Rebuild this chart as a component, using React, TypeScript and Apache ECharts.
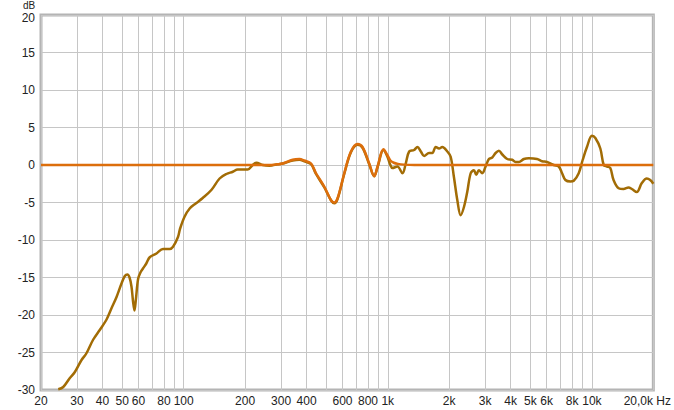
import React, { useEffect, useRef } from "react";
import * as echarts from "echarts";

const gridFreqs = [
  20, 30, 40, 50, 60, 70, 80, 90, 100, 200, 300, 400, 500, 600, 700, 800, 900, 1000,
  2000, 3000, 4000, 5000, 6000, 7000, 8000, 9000, 10000, 20000,
];
const labelFreqs = [
  20, 30, 40, 50, 60, 80, 100, 200, 300, 400, 600, 800, 1000, 2000, 3000, 4000, 5000,
  6000, 8000, 10000, 20000,
];

// Measured response [Hz, dB]
const responseData: [number, number][] = [
  [24.3, -29.9], [25.7, -29.6], [27.7, -28.4], [29.3, -27.6], [31.6, -26.0], [33.4, -25.1],
  [36.0, -23.3], [38.8, -22.0], [41.9, -20.6], [44.3, -19.1], [46.9, -17.6], [49.6, -15.8],
  [51.5, -14.8], [53.0, -14.6], [54.3, -15.0], [55.5, -16.2], [56.5, -18.2], [57.4, -19.4],
  [58.3, -18.0], [59.8, -15.2], [61.5, -14.3], [63.2, -13.8], [65.7, -13.1], [68.2, -12.3],
  [73.6, -11.8], [79.2, -11.2], [85.4, -11.2], [88.7, -10.9], [93.8, -9.6], [96.0, -8.5],
  [101, -6.9], [107, -5.8], [115, -5.1], [124, -4.4], [137, -3.3], [150, -1.8], [162, -1.2],
  [174, -0.9], [184, -0.6], [206, -0.6], [218, 0.0], [227, 0.3], [244, 0.0], [263, -0.1],
  [289, 0.1], [306, 0.2], [342, 0.6], [369, 0.7], [390, 0.5], [421, 0.1], [445, -1.2],
  [489, -3.0], [527, -4.7], [547, -5.1], [568, -4.5], [612, -1.2], [660, 1.7], [711, 2.7],
  [752, 2.3], [811, 0.1], [858, -1.5], [891, -0.3], [952, 2.0], [996, 1.1], [1030, 0.0],
  [1054, -0.4], [1115, -0.2], [1180, -1.1], [1225, 0.2], [1273, 1.8], [1346, 2.0],
  [1397, 2.4], [1452, 1.8], [1507, 1.2], [1593, 1.6], [1653, 1.6], [1718, 2.4], [1783, 2.2],
  [1850, 2.4], [1958, 1.8], [2033, 1.1], [2109, -1.6], [2192, -4.7], [2276, -6.7],
  [2362, -5.6], [2451, -3.6], [2548, -1.1], [2643, -0.7], [2712, -1.3], [2796, -0.7],
  [2903, -1.1], [3015, -0.2], [3130, 0.8], [3250, 1.0], [3375, 1.6], [3503, 1.9], [3639, 1.4],
  [3848, 0.8], [4068, 0.7], [4227, 0.4], [4389, 0.4], [4644, 0.8], [4910, 0.9], [5385, 0.8],
  [5700, 0.5], [6030, 0.4], [6500, 0.0], [6880, -0.2], [7145, -1.1], [7420, -2.0],
  [7850, -2.2], [8150, -2.1], [8620, -1.1], [9020, 0.7], [9460, 2.4], [10010, 3.9],
  [10400, 3.6], [11000, 2.2], [11430, 0.0], [11860, -0.2], [12310, -0.4], [12770, -2.0],
  [13520, -3.1], [14300, -3.2], [15130, -3.0], [15700, -3.2], [16600, -3.6], [17570, -2.4],
  [18580, -1.8], [19310, -2.0], [20000, -2.5],
];

// Target / corrected curve [Hz, dB]
const targetData: [number, number][] = [
  [20, 0], [260, 0], [289, 0.1], [306, 0.2], [342, 0.7], [369, 0.8], [390, 0.6], [421, 0.2],
  [445, -1.1], [489, -2.9], [527, -4.7], [547, -5.0], [568, -4.4], [612, -1.1], [660, 1.8],
  [711, 2.8], [752, 2.4], [811, 0.2], [858, -1.5], [891, -0.2], [952, 2.1], [996, 1.3],
  [1030, 0.6], [1070, 0.3], [1120, 0.15], [1200, 0.05], [1350, 0], [20000, 0],
];

function fmtFreq(v: number): string {
  if (v >= 20000) return "{e|20,0k Hz}";
  if (v >= 1000) return v / 1000 + "k";
  return String(v);
}

function fmtDb(v: number): string {
  if (v >= 20) return "{t|" + v + "}";
  return String(v);
}

export default function App() {
  const ref = useRef<HTMLDivElement>(null);
  useEffect(() => {
    if (!ref.current) return;
    const chart = echarts.init(ref.current, undefined, { renderer: "svg" });
    const font = "'Liberation Sans', Arial, sans-serif";
    chart.setOption({
      animation: false,
      backgroundColor: "#ffffff",
      grid: {
        left: 41,
        right: 19,
        top: 15,
        bottom: 20,
        show: true,
        borderColor: "#b4b4b4",
        borderWidth: 3,
        containLabel: false,
      },
      graphic: [
        {
          type: "text",
          left: 23,
          top: 0,
          style: { text: "dB", fill: "#222", font: "10px " + font },
        },
      ],
      xAxis: {
        type: "log",
        logBase: 10,
        min: 20,
        max: 20000,
        axisLine: { show: false },
        axisTick: { show: false, customValues: gridFreqs },
        splitLine: { show: true, lineStyle: { color: "#c6c6c6", width: 1 } },
        axisLabel: {
          customValues: labelFreqs,
          formatter: fmtFreq,
          color: "#222",
          fontSize: 12,
          fontFamily: font,
          margin: 5,
          rich: { e: { fontSize: 12, fontFamily: font, color: "#222", padding: [0, 12, 0, 0] } },
        },
      },
      yAxis: {
        type: "value",
        min: -30,
        max: 20,
        interval: 5,
        axisLine: { show: false },
        axisTick: { show: false },
        splitLine: { show: true, lineStyle: { color: "#c6c6c6", width: 1 } },
        axisLabel: {
          color: "#222",
          fontSize: 12,
          fontFamily: font,
          margin: 6,
          formatter: fmtDb,
          rich: { t: { fontSize: 12, fontFamily: font, color: "#222", padding: [5, 0, 0, 0] } },
        },
      },
      series: [
        {
          type: "line",
          data: responseData,
          showSymbol: false,
          smooth: 0.35,
          clip: true,
          lineStyle: { color: "#a26c05", width: 2.5 },
          z: 3,
        },
        {
          type: "line",
          data: targetData,
          showSymbol: false,
          smooth: 0.35,
          clip: true,
          lineStyle: { color: "#dc6e0c", width: 2.5 },
          z: 4,
        },
      ],
    });
    return () => chart.dispose();
  }, []);
  return <div ref={ref} style={{ width: 674, height: 410, position: "absolute", left: 0, top: 0 }} />;
}
